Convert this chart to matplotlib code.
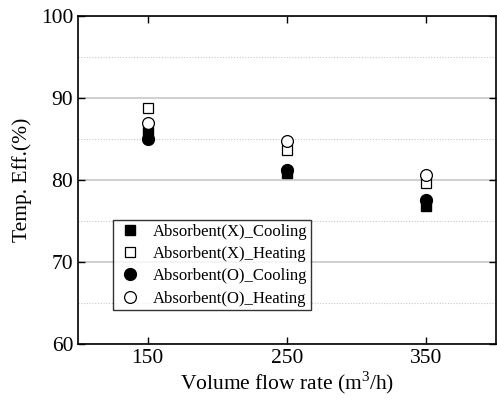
import matplotlib
matplotlib.use("Agg")
import matplotlib.pyplot as plt
from matplotlib.ticker import MultipleLocator

plt.rcParams['font.family'] = ['Liberation Serif', 'DejaVu Serif']
plt.rcParams['mathtext.fontset'] = 'custom'
plt.rcParams['mathtext.rm'] = 'Liberation Serif'

flow = [150, 250, 350]
x_cooling = [85.8, 80.8, 76.8]
x_heating = [88.8, 83.7, 79.6]
o_cooling = [85.0, 81.2, 77.6]
o_heating = [86.9, 84.7, 80.6]
labels = ['Absorbent(X)_Cooling', 'Absorbent(X)_Heating',
          'Absorbent(O)_Cooling', 'Absorbent(O)_Heating']

fig = plt.figure(figsize=(4.97, 4.0), dpi=100)
ax = fig.add_axes([78/497, 56/400, 418/497, 328/400])

ax.plot(flow, x_cooling, 's', ms=7.5, mfc='black', mec='black', label=labels[0], zorder=3)
ax.plot(flow, x_heating, 's', ms=7.5, mfc='white', mec='black', mew=0.9, label=labels[1], zorder=3)
ax.plot(flow, o_cooling, 'o', ms=8.5, mfc='black', mec='black', label=labels[2], zorder=4)
ax.plot(flow, o_heating, 'o', ms=8.5, mfc='white', mec='black', mew=0.9, label=labels[3], zorder=4)

ax.set_xlim(100, 400)
ax.set_ylim(60, 100)
ax.set_xticks(flow)
ax.xaxis.set_minor_locator(MultipleLocator(50))
ax.yaxis.set_major_locator(MultipleLocator(10))
ax.yaxis.set_minor_locator(MultipleLocator(5))
ax.tick_params(which='both', direction='in', top=True, right=True, labelsize=15.5)
ax.tick_params(which='major', length=5, width=1)
ax.tick_params(which='minor', length=0)
ax.grid(True, which='major', axis='y', color='#c8c8c8', lw=1.2, ls='-')
ax.grid(True, which='minor', axis='y', color='#c8c8c8', lw=0.8, ls=(0, (1, 1.5)))
ax.set_axisbelow(True)
for s in ax.spines.values():
    s.set_linewidth(1.2)

ax.set_xlabel('Volume flow rate (m$^3$/h)', fontsize=15.5, labelpad=1)
ax.set_ylabel('Temp. Eff.(%)', fontsize=15.5, labelpad=6)

leg = ax.legend(loc='lower left', bbox_to_anchor=(0.084, 0.104),
                fontsize=12, frameon=True, fancybox=False, edgecolor='black',
                borderpad=0.2, labelspacing=0.38, handletextpad=0.6, handlelength=1.6,
                borderaxespad=0)
leg.get_frame().set_linewidth(1.0)

fig.savefig('out.png', dpi=100)
